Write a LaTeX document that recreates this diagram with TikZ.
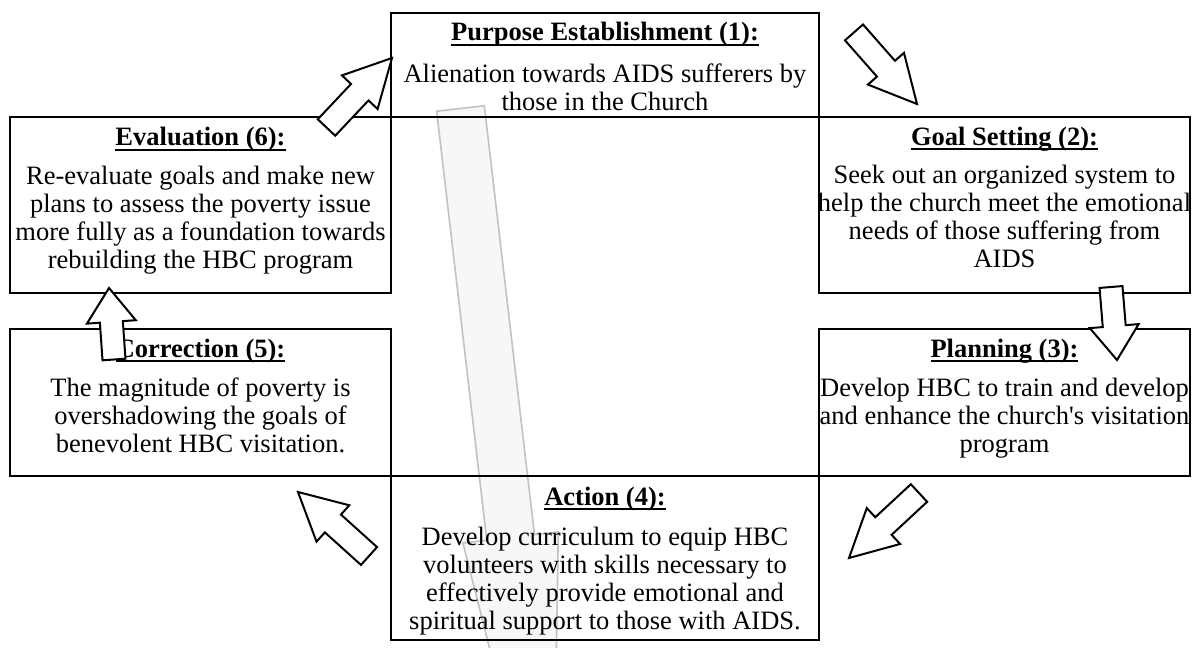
\documentclass[tikz,border=0pt]{standalone}
\usepackage{fontspec}
\setmainfont{Liberation Serif}
\usetikzlibrary{calc}
\definecolor{shadefill}{HTML}{F7F7F7}
\definecolor{shadeline}{HTML}{C2C2C2}
% bold, underlined heading of a stage box
\newsavebox{\ttlsave}
\newcommand{\boxtitle}[1]{\strut\sbox{\ttlsave}{\textbf{#1}}%
  \rlap{\rule[-4.8pt]{\wd\ttlsave}{1.6pt}}\usebox{\ttlsave}}
% block arrow: style, tail, tip, shaft half-width, head half-width, head length
\newcommand{\drawblockarrow}[6]{%
  \coordinate (hb) at ($(#3)!#6!(#2)$);
  \path[#1] ($(#2)!#4!90:(#3)$) -- ($(hb)!#4!90:(#3)$) -- ($(hb)!#5!90:(#3)$)
    -- (#3) -- ($(hb)!#5!-90:(#3)$) -- ($(hb)!#4!-90:(#3)$)
    -- ($(#2)!#4!-90:(#3)$) -- cycle;}
\begin{document}
\begin{tikzpicture}[x=1pt,y=-1pt,
  stagebox/.style={draw, line width=2pt, inner sep=0pt},
  stagetext/.style={font=\fontsize{26.5}{28}\selectfont, align=center, inner sep=0pt, anchor=north},
  cyclearrow/.style={draw, fill=white, line width=2pt, line join=miter},
  backarrow/.style={draw=shadeline, fill=shadefill, line width=1.6pt}]
\useasboundingbox (0,0) rectangle (1200,648);

% long shaded arrow behind the stages
\coordinate (bgtail) at (460.5,108.5);
\coordinate (bgtip) at (552.6,897);
\begin{scope}
  \clip (0,0) rectangle (1200,648);
  \drawblockarrow{backarrow}{bgtail}{bgtip}{24pt}{48pt}{362pt}
\end{scope}

% stage boxes
\node[stagebox, minimum width=428pt, minimum height=104pt] (purpose) at (605,65) {};
\node[stagebox, minimum width=371pt, minimum height=176pt] (goal) at (1004.5,205) {};
\node[stagebox, minimum width=371pt, minimum height=147pt] (planning) at (1004.5,402.5) {};
\node[stagebox, minimum width=428pt, minimum height=164pt] (action) at (605,558) {};
\node[stagebox, minimum width=381pt, minimum height=147pt] (correction) at (200.5,402.5) {};
\node[stagebox, minimum width=381pt, minimum height=176pt] (evaluation) at (200.5,205) {};

% stage texts
\node[stagetext] (purposeT) at ([yshift=-9pt]purpose.north)
  {\boxtitle{Purpose Establishment (1):}\\[14pt]
   Alienation towards AIDS sufferers by\\ those in the Church};
\node[stagetext] (goalT) at ([yshift=-9.4pt]goal.north)
  {\boxtitle{Goal Setting (2):}\\[10pt]
   Seek out an organized system to\\ help the church meet the emotional\\
   needs of those suffering from\\ AIDS};
\node[stagetext] (planningT) at ([yshift=-9.2pt]planning.north)
  {\boxtitle{Planning (3):}\\[11pt]
   Develop HBC to train and develop\\ and enhance the church\textquotesingle s visitation\\ program};
\node[stagetext] (actionT) at ([yshift=-10.2pt]action.north)
  {\boxtitle{Action (4):}\\[12pt]
   Develop curriculum to equip HBC\\ volunteers with skills necessary to\\
   effectively provide emotional and\\ spiritual support to those with AIDS.};
\node[stagetext] (correctionT) at ([yshift=-9.2pt]correction.north)
  {\boxtitle{Correction (5):}\\[11pt]
   The magnitude of poverty is\\ overshadowing the goals of\\ benevolent HBC visitation.};
\node[stagetext] (evaluationT) at ([yshift=-10pt]evaluation.north)
  {\boxtitle{Evaluation (6):}\\[11pt]
   Re-evaluate goals and make new\\ plans to assess the poverty issue\\
   more fully as a foundation towards\\ rebuilding the HBC program};

% cycle arrows between the stages
\coordinate (a1s) at (326.5,127.5); \coordinate (a1e) at (392,58);
\coordinate (a2s) at (854,32.4);    \coordinate (a2e) at (917,104);
\coordinate (a3s) at (1111,287);    \coordinate (a3e) at (1117,360);
\coordinate (a4s) at (919,493);     \coordinate (a4e) at (849,558);
\coordinate (a5s) at (369,556);     \coordinate (a5e) at (298,492);
\coordinate (a6s) at (114,359.5);   \coordinate (a6e) at (109,288);
\drawblockarrow{cyclearrow}{a1s}{a1e}{12pt}{24.5pt}{47pt}
\drawblockarrow{cyclearrow}{a2s}{a2e}{12pt}{24pt}{47pt}
\drawblockarrow{cyclearrow}{a3s}{a3e}{11.5pt}{24.5pt}{34pt}
\drawblockarrow{cyclearrow}{a4s}{a4e}{12pt}{24.5pt}{47pt}
\drawblockarrow{cyclearrow}{a5s}{a5e}{12pt}{24.5pt}{47pt}
\drawblockarrow{cyclearrow}{a6s}{a6e}{11.5pt}{24.5pt}{34pt}
\end{tikzpicture}
\end{document}
